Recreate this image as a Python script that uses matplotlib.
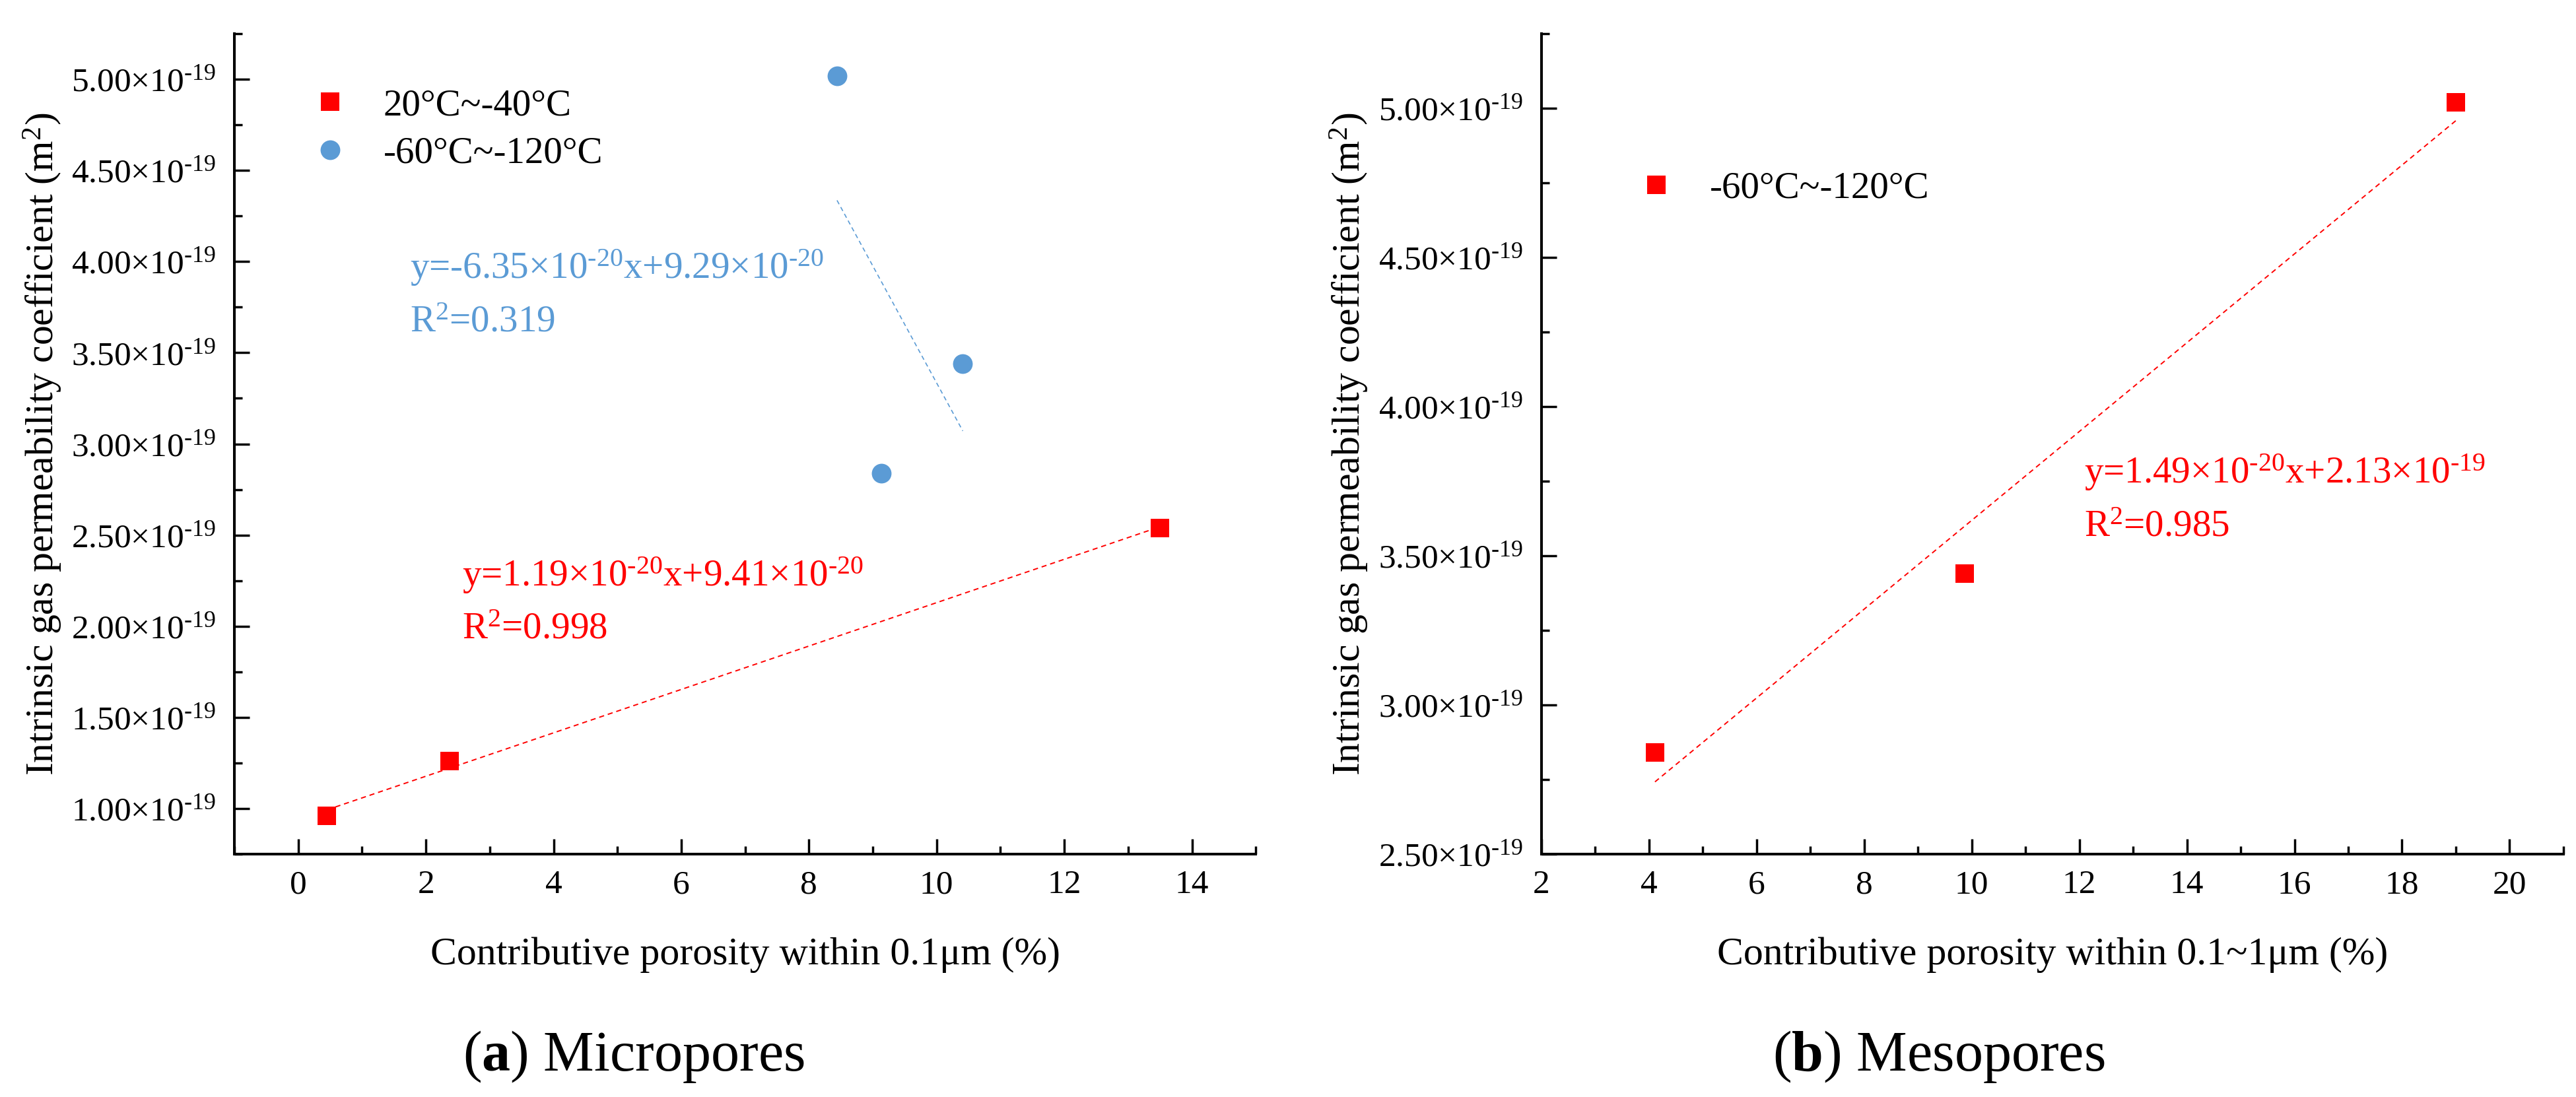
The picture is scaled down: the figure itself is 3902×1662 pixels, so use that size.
import numpy as np
import matplotlib
matplotlib.use("Agg")
import matplotlib.pyplot as plt
from matplotlib.ticker import FixedLocator, FuncFormatter

# (a) micropores, two temperature stages
micro_warm_x = [0.45, 2.37, 13.5]
micro_warm_y = [0.96e-19, 1.26e-19, 2.54e-19]
micro_cold_x = [8.44, 9.13, 10.41]
micro_cold_y = [5.02e-19, 2.84e-19, 3.44e-19]

# (b) mesopores
meso_x = [4.11, 9.87, 19.0]
meso_y = [2.84e-19, 3.44e-19, 5.02e-19]

# ticks
micro_xticks = [0, 2, 4, 6, 8, 10, 12, 14]
micro_yticks = [1.0e-19, 1.5e-19, 2.0e-19, 2.5e-19, 3.0e-19, 3.5e-19, 4.0e-19, 4.5e-19, 5.0e-19]
meso_xticks = [2, 4, 6, 8, 10, 12, 14, 16, 18, 20]
meso_yticks = [2.5e-19, 3.0e-19, 3.5e-19, 4.0e-19, 4.5e-19, 5.0e-19]

warm_label = "20°C~-40°C"
cold_label = "-60°C~-120°C"
eq_warm = "y=1.19×$10^{\\text{-}20}$x+9.41×$10^{\\text{-}20}$"
r2_warm = "R$^2$=0.998"
eq_cold = "y=-6.35×$10^{\\text{-}20}$x+9.29×$10^{\\text{-}20}$"
r2_cold = "R$^2$=0.319"
eq_meso = "y=1.49×$10^{\\text{-}20}$x+2.13×$10^{\\text{-}19}$"
r2_meso = "R$^2$=0.985"

RED = "#ff0000"
BLUE = "#5b9bd5"

plt.rcParams["font.family"] = ["Liberation Serif", "DejaVu Serif"]
plt.rcParams["mathtext.fontset"] = "custom"
plt.rcParams["mathtext.rm"] = "Liberation Serif"
plt.rcParams["mathtext.it"] = "Liberation Serif:italic"
plt.rcParams["mathtext.bf"] = "Liberation Serif:bold"

TICK_FS = 37
TEXT_FS = 41
LABEL_FS = 43


def fmt_y(v, pos):
    return f"{v * 1e19:.2f}×$10^{{\\text{{-}}19}}$"


def style_axes(ax, xlim, ylim, xticks, yticks):
    ax.set_xlim(*xlim)
    ax.set_ylim(*ylim)
    for s in ["top", "right"]:
        ax.spines[s].set_visible(False)
    for s in ["left", "bottom"]:
        ax.spines[s].set_linewidth(2.9)
    ax.xaxis.set_major_locator(FixedLocator(xticks))
    ax.xaxis.set_minor_locator(FixedLocator(np.arange(xlim[0], xlim[1] + 0.01, 1.0)))
    ax.yaxis.set_major_locator(FixedLocator(yticks))
    ax.yaxis.set_minor_locator(FixedLocator(np.arange(ylim[0], ylim[1] + 1e-22, 0.25e-19)))
    ax.yaxis.set_major_formatter(FuncFormatter(fmt_y))
    ax.tick_params(which="both", direction="in", width=2.5, labelsize=TICK_FS)
    ax.tick_params(which="major", length=16.5)
    ax.tick_params(which="minor", length=8.6)
    ax.tick_params(axis="x", which="major", pad=17)
    ax.tick_params(axis="y", which="major", pad=20)


def fit_line(ax, x, y, color, lw, dashes):
    k, b = np.polyfit(x, y, 1)
    xx = np.array([min(x), max(x)])
    ax.plot(xx, k * xx + b, color=color, lw=lw, dashes=dashes, zorder=1)


fig = plt.figure(figsize=(39.02, 16.62), dpi=100)
ax1 = fig.add_axes([0.0910, 0.2214, 0.3965, 0.7479])
ax2 = fig.add_axes([0.5984, 0.2214, 0.3967, 0.7479])

# ---- (a) micropores
style_axes(ax1, (-1, 15), (0.75e-19, 5.25e-19), micro_xticks, micro_yticks)
fit_line(ax1, micro_warm_x, micro_warm_y, RED, 1.4, (4, 3))
fit_line(ax1, micro_cold_x, micro_cold_y, BLUE, 1.2, (4, 3))
ax1.plot(micro_warm_x, micro_warm_y, "s", color=RED, ms=19.5, mew=0, label=warm_label, zorder=3)
ax1.plot(micro_cold_x, micro_cold_y, "o", color=BLUE, ms=21.5, mew=0, label=cold_label, zorder=3)
ax1.legend(loc="upper left", bbox_to_anchor=(0.0753, 0.933), frameon=False, fontsize=TEXT_FS,
           borderpad=0, borderaxespad=0, handlelength=1.0, handletextpad=0.92, labelspacing=0.36)
ax1.text(0.172, 0.7015, eq_cold, transform=ax1.transAxes, color=BLUE, fontsize=TEXT_FS, va="baseline")
ax1.text(0.172, 0.6364, r2_cold, transform=ax1.transAxes, color=BLUE, fontsize=TEXT_FS, va="baseline")
ax1.text(0.223, 0.3266, eq_warm, transform=ax1.transAxes, color=RED, fontsize=TEXT_FS, va="baseline")
ax1.text(0.223, 0.2623, r2_warm, transform=ax1.transAxes, color=RED, fontsize=TEXT_FS, va="baseline")
ax1.set_xlabel("Contributive porosity within 0.1μm (%)", fontsize=LABEL_FS)
ax1.set_ylabel("Intrinsic gas permeability coefficient (m$^2$)", fontsize=LABEL_FS)
ax1.xaxis.set_label_coords(0.5, -0.101)
ax1.yaxis.set_label_coords(-0.167, 0.5)

# ---- (b) mesopores
style_axes(ax2, (2, 21), (2.5e-19, 5.25e-19), meso_xticks, meso_yticks)
fit_line(ax2, meso_x, meso_y, RED, 1.4, (4, 3))
ax2.plot(meso_x, meso_y, "s", color=RED, ms=19.5, mew=0, label=cold_label, zorder=3)
ax2.legend(loc="upper left", bbox_to_anchor=(0.094, 0.832), frameon=False, fontsize=TEXT_FS,
           borderpad=0, borderaxespad=0, handlelength=1.0, handletextpad=0.92)
ax2.text(0.531, 0.4521, eq_meso, transform=ax2.transAxes, color=RED, fontsize=TEXT_FS, va="baseline")
ax2.text(0.531, 0.3877, r2_meso, transform=ax2.transAxes, color=RED, fontsize=TEXT_FS, va="baseline")
ax2.set_xlabel("Contributive porosity within 0.1~1μm (%)", fontsize=LABEL_FS)
ax2.set_ylabel("Intrinsic gas permeability coefficient (m$^2$)", fontsize=LABEL_FS)
ax2.xaxis.set_label_coords(0.5, -0.101)
ax2.yaxis.set_label_coords(-0.167, 0.5)

# captions
fig.text(0.246, 0.024, "($\\mathbf{a}$) Micropores", fontsize=62, ha="center", va="baseline")
fig.text(0.7527, 0.024, "($\\mathbf{b}$) Mesopores", fontsize=62, ha="center", va="baseline")

fig.savefig("out.png", dpi=100)
